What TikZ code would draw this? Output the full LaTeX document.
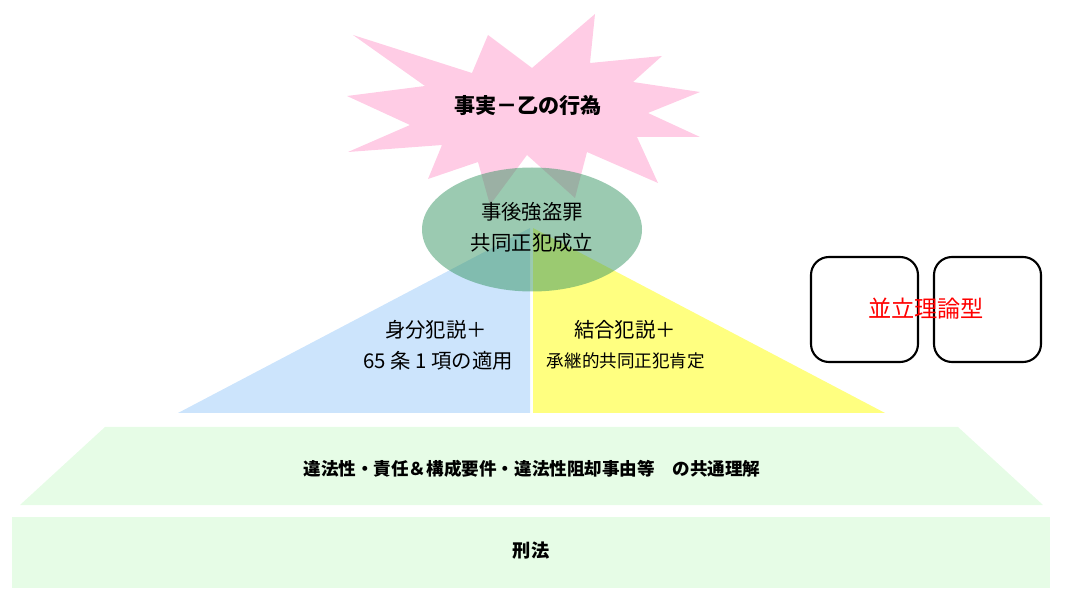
\documentclass[tikz,border=0pt]{standalone}
\usepackage{fontspec}
\setmainfont{Noto Sans CJK JP}
\definecolor{starpink}{RGB}{255,204,229}
\definecolor{ovalgreen}{RGB}{56,150,100}
\definecolor{leftblue}{RGB}{204,228,252}
\definecolor{rightyellow}{RGB}{255,255,128}
\definecolor{baselight}{RGB}{230,252,230}
\tikzset{
  lbl/.style={inner sep=0pt, align=center, text=black},
  roundbox/.style={draw=black, line width=1.5pt, rounded corners=0.45cm}
}

\begin{document}
\begin{tikzpicture}[x=0.025cm, y=-0.025cm, line join=round]
  % page frame in pixel units (y grows downward)
  \useasboundingbox (0,0) rectangle (1067,603);

  % Explosion shape for the fact
  \fill[starpink] (353,35) -- (472,73) -- (488,35) -- (532,68) -- (595,14)
    -- (590,63) -- (662,56) -- (633,82) -- (700,92) -- (648,113) -- (700,137)
    -- (637,137) -- (658,183) -- (587,152) -- (575,198) -- (527,155)
    -- (490,205) -- (478,162) -- (428,179) -- (442,145) -- (348,152)
    -- (410,125) -- (347,96) -- (425,86) -- cycle;

  % Two halves of the pyramid
  \fill[leftblue] (530,228) -- (530,413) -- (178,413) -- cycle;
  \fill[rightyellow] (533,228) -- (885,413) -- (533,413) -- cycle;

  % Oval on top, see-through
  \fill[ovalgreen, fill opacity=0.5] (532,229.5) ellipse [x radius=110, y radius=62];

  % Base layers
  \fill[baselight] (105,427) -- (958,427) -- (1043,505) -- (20,505) -- cycle;
  \fill[baselight] (12,517) rectangle (1050,588);

  % Side boxes
  \draw[roundbox] (811,257) rectangle (918,362);
  \draw[roundbox] (934,257) rectangle (1041,362);

  % Texts
  \node[lbl, font=\fontsize{15pt}{18pt}\selectfont\bfseries] (fact) at (528,105) {事実－乙の行為};
  \node[lbl, font=\fontsize{14.5pt}{22pt}\selectfont] (crime) at (532,227) {事後強盗罪\\共同正犯成立};
  \node[lbl, font=\fontsize{14.5pt}{17pt}\selectfont] (status) at (436,330) {身分犯説＋};
  \node[lbl, font=\fontsize{14.5pt}{17pt}\selectfont] (art) at (438,361) {65 条 1 項の適用};
  \node[lbl, font=\fontsize{14.5pt}{17pt}\selectfont] (combo) at (625,330) {結合犯説＋};
  \node[lbl, font=\fontsize{12.5pt}{15pt}\selectfont] (succ) at (626,361) {承継的共同正犯肯定};
  \node[lbl, font=\fontsize{12.5pt}{15pt}\selectfont\bfseries] (common) at (532,469) {違法性・責任＆構成要件・違法性阻却事由等　の共通理解};
  \node[lbl, font=\fontsize{13pt}{15pt}\selectfont\bfseries] (law) at (531,551) {刑法};
  \node[lbl, font=\fontsize{16.5pt}{19pt}\selectfont, text=red] (type) at (926,309) {並立理論型};
\end{tikzpicture}
\end{document}
